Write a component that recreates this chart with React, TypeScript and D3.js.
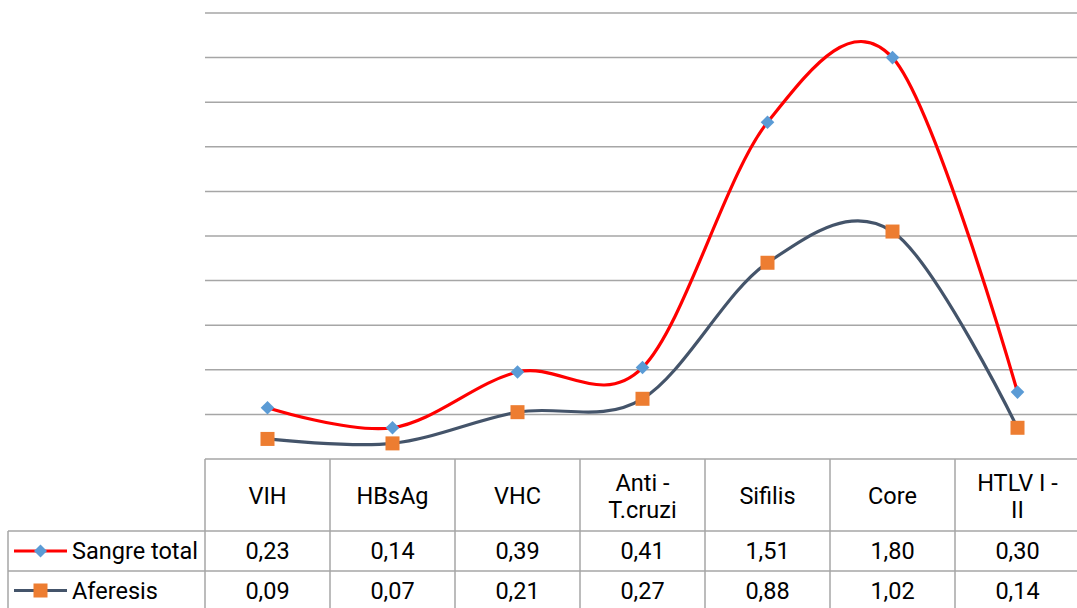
import React from "react";
import * as d3 from "d3";

const categories = ["VIH", "HBsAg", "VHC", "Anti - T.cruzi", "Sifilis", "Core", "HTLV I - II"];
const categoryLines = [["VIH"], ["HBsAg"], ["VHC"], ["Anti -", "T.cruzi"], ["Sifilis"], ["Core"], ["HTLV I -", "II"]];
const sangreTotal = [0.23, 0.14, 0.39, 0.41, 1.51, 1.8, 0.3];
const aferesis = [0.09, 0.07, 0.21, 0.27, 0.88, 1.02, 0.14];
const yTicks = [0, 0.2, 0.4, 0.6, 0.8, 1.0, 1.2, 1.4, 1.6, 1.8, 2.0];

const W = 1077;
const H = 608;
const FONT = "Roboto, 'Liberation Sans', sans-serif";

export default function App() {
  const left = 205;
  const right = 1080;
  const top = 13;
  const bottom = 459;
  const headerBottom = 531;
  const row1Bottom = 571;
  const tableBottom = 612;
  const legendLeft = 8;
  const fs = 23.5;

  const x = d3.scaleBand().domain(categories).range([left, right]);
  const y = d3.scaleLinear().domain([0, 2]).range([bottom, top]);
  const cx = (c: string) => (x(c) as number) + x.bandwidth() / 2;

  const line = d3
    .line<number>()
    .x((_, i) => cx(categories[i]))
    .y((d) => y(d))
    .curve(d3.curveCardinal.tension(0));

  const fmt = (v: number) => v.toFixed(2).replace(".", ",");
  const grid = "#A6A6A6";
  const red = "#FF0000";
  const navy = "#44546A";
  const blue = "#5B9BD5";
  const orange = "#ED7D31";

  const diamond = (px: number, py: number, r: number, k: string) => (
    <path key={k} d={`M${px},${py - r}L${px + r},${py}L${px},${py + r}L${px - r},${py}Z`} fill={blue} />
  );
  const square = (px: number, py: number, s: number, k: string) => (
    <rect key={k} x={px - s / 2} y={py - s / 2} width={s} height={s} fill={orange} />
  );

  const row1Y = (headerBottom + row1Bottom) / 2;
  const row2Y = (row1Bottom + tableBottom) / 2 - 1;

  return (
    <svg
      width={W}
      height={H}
      style={{ position: "fixed", left: 0, top: 0, background: "#fff" }}
      fontFamily={FONT}
    >
      <rect x={0} y={0} width={W} height={H} fill="#fff" />
      {yTicks.map((t) => (
        <line key={t} x1={left} x2={right} y1={y(t)} y2={y(t)} stroke={grid} strokeWidth={1.5} />
      ))}
      {/* table borders */}
      <g stroke={grid} strokeWidth={1.5}>
        <line x1={legendLeft} x2={right} y1={headerBottom} y2={headerBottom} />
        <line x1={legendLeft} x2={right} y1={row1Bottom} y2={row1Bottom} />
        <line x1={legendLeft} x2={legendLeft} y1={headerBottom} y2={tableBottom} />
        {categories.map((c) => (
          <line key={c} x1={x(c) as number} x2={x(c) as number} y1={bottom} y2={tableBottom} />
        ))}
      </g>
      {/* header labels */}
      {categories.map((c, i) => {
        const lines = categoryLines[i];
        const mid = (bottom + headerBottom) / 2 + 1;
        const lh = 27;
        const start = mid - ((lines.length - 1) * lh) / 2;
        return (
          <text key={c} x={cx(c)} textAnchor="middle" fontSize={fs} fill="#000">
            {lines.map((l, j) => (
              <tspan key={j} x={cx(c)} y={start + j * lh} dominantBaseline="central">
                {l}
              </tspan>
            ))}
          </text>
        );
      })}
      {/* values */}
      {categories.map((c, i) => (
        <g key={c}>
          <text x={cx(c)} y={row1Y} textAnchor="middle" dominantBaseline="central" fontSize={fs} fill="#000">
            {fmt(sangreTotal[i])}
          </text>
          <text x={cx(c)} y={row2Y} textAnchor="middle" dominantBaseline="central" fontSize={fs} fill="#000">
            {fmt(aferesis[i])}
          </text>
        </g>
      ))}
      {/* legend keys */}
      <line x1={14} x2={67} y1={row1Y} y2={row1Y} stroke={red} strokeWidth={3} />
      {diamond(40.5, row1Y, 6.5, "ld")}
      <text x={72} y={row1Y} dominantBaseline="central" fontSize={fs} fill="#000">Sangre total</text>
      <line x1={14} x2={67} y1={row2Y} y2={row2Y} stroke={navy} strokeWidth={3} />
      {square(40.5, row2Y, 14, "ls")}
      <text x={72} y={row2Y} dominantBaseline="central" fontSize={fs} fill="#000">Aferesis</text>
      {/* series */}
      <path d={line(aferesis) as string} fill="none" stroke={navy} strokeWidth={3.2} />
      <path d={line(sangreTotal) as string} fill="none" stroke={red} strokeWidth={3.2} />
      {aferesis.map((v, i) => square(cx(categories[i]), y(v), 14, "s" + i))}
      {sangreTotal.map((v, i) => diamond(cx(categories[i]), y(v), 6.8, "d" + i))}
    </svg>
  );
}
